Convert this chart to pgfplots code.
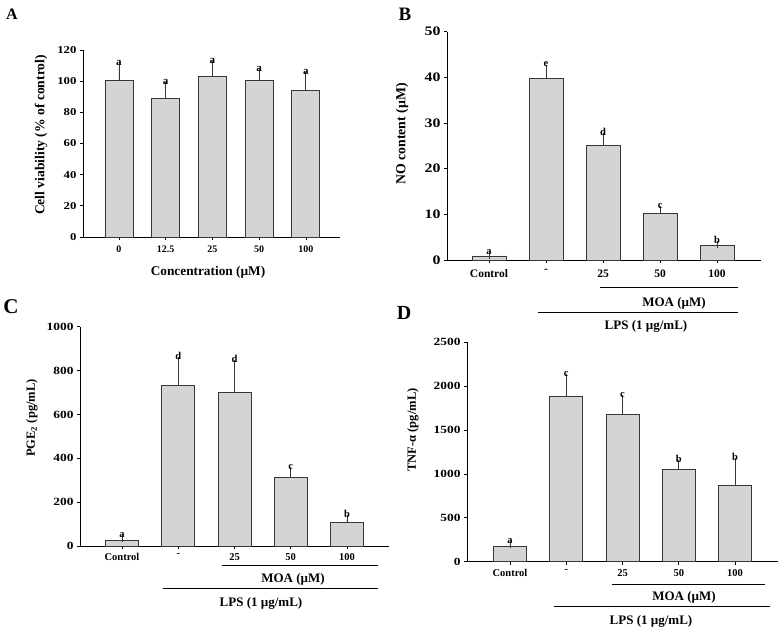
\documentclass[border=0pt]{standalone}
\usepackage{fontspec}
\setmainfont{Liberation Serif}
\newfontfamily\tickfont[FakeStretch=1.22]{Liberation Serif}
\usepackage{pgfplots}
\pgfplotsset{compat=1.18}
\definecolor{barfill}{RGB}{212,212,212}
\definecolor{baredge}{RGB}{55,55,55}
\newcommand{\fs}[1]{\fontsize{#1}{#1}\selectfont}
\pgfplotsset{
  panel/.style={
    scale only axis, anchor=south west,
    axis x line*=bottom, axis y line*=left,
    axis line style={black, line width=0.9pt},
    xtick={0,1,2,3,4},
    ymin=0,
    tick style={black, line width=0.7pt},
    major tick length=3pt,
    tick align=outside,
    /pgf/number format/assume math mode=true,
    /pgf/number format/1000 sep={},
    clip=false,
  },
  barst/.style={ybar, fill=barfill, draw=baredge, line width=0.8pt, bar width=#1,
    error bars/.cd, y dir=plus, y explicit, error mark=-,
    error bar style={baredge, line width=0.8pt},
    error mark options={baredge, line width=0.8pt, mark size=3.5pt}},
  letters/.style={draw=none, mark=none, nodes near coords, point meta=explicit symbolic,
    nodes near coords style={font=\bfseries\fs{#1}, anchor=south, inner sep=0.5pt, text=black}},
}
\begin{document}
\begin{tikzpicture}[x=1pt,y=1pt]
\path (0,0) rectangle (781,632);
% ---------- Panel A ----------
\begin{axis}[panel, at={(83pt,395pt)}, width=257pt, height=187pt,
  xmin=-0.77, xmax=4.73, ymax=120, ytick={0,20,...,120},
  xticklabels={0,12.5,25,50,100},
  yticklabel style={font=\tickfont\bfseries\fs{10.5}},
  xticklabel style={font=\bfseries\fs{10}, yshift=-2pt}]
\addplot[barst=28pt] coordinates {(0,100.3) +- (0,9.0) (1,89.0) +- (0,7.9) (2,102.9) +- (0,7.5) (3,100.7) +- (0,4.8) (4,94.3) +- (0,9.2)};
\addplot[letters=11] coordinates {(0,109.8)[a] (1,97.4)[a] (2,110.9)[a] (3,106)[a] (4,104)[a]};
\end{axis}
\node[rotate=90, font=\bfseries\fs{13.6}] at (41,497) {Cell viability (\% of control)};
\node[font=\bfseries\fs{13.3}] at (208,360) {Concentration (µM)};
\node[font=\bfseries\fs{16}] at (12,618) {A};
% ---------- Panel B ----------
\begin{axis}[panel, at={(447pt,372pt)}, width=314pt, height=228.3pt,
  xmin=-0.737, xmax=4.77, ymax=50, ytick={0,10,...,50},
  xticklabels={Control,-,25,50,100},
  yticklabel style={font=\tickfont\bfseries\fs{13}},
  xticklabel style={font=\bfseries\fs{11.5}, yshift=-3pt}]
\addplot[barst=34pt] coordinates {(0,0.88) +- (0,0) (1,39.7) +- (0,2.3) (2,25.1) +- (0,1.9) (3,10.2) +- (0,0.9) (4,3.2) +- (0,0.15)};
\addplot[letters=10.5] coordinates {(0,0.95)[a] (1,42.1)[e] (2,27.1)[d] (3,11.2)[c] (4,3.4)[b]};
\end{axis}
\node[rotate=90, font=\bfseries\fs{13.8}] at (402,498) {NO content (µM)};
\node[font=\bfseries\fs{19}] at (405,618) {B};
\draw[line width=0.8pt] (600,344.3) -- (738,344.3);
\node[font=\bfseries\fs{13}] at (674,329) {MOA (µM)};
\draw[line width=0.8pt] (538,319.7) -- (738,319.7);
\node[font=\bfseries\fs{13}] at (646,305.3) {LPS (1 µg/mL)};
% ---------- Panel C ----------
\begin{axis}[panel, at={(80pt,86pt)}, width=309pt, height=219.3pt,
  xmin=-0.747, xmax=4.747, ymax=1000, ytick={0,200,...,1000},
  xticklabels={Control,-,25,50,100},
  yticklabel style={font=\tickfont\bfseries\fs{11}},
  xticklabel style={font=\bfseries\fs{10.5}, yshift=-1pt}]
\addplot[barst=33pt] coordinates {(0,24) +- (0,9) (1,734) +- (0,114) (2,699) +- (0,134) (3,313) +- (0,30) (4,108) +- (0,18)};
\addplot[letters=10.5] coordinates {(0,34)[a] (1,849)[d] (2,834)[d] (3,344)[c] (4,127)[b]};
\end{axis}
\node[rotate=90, font=\bfseries\fs{12.5}] at (32,214) {PGE\textsubscript{2} (pg/mL)};
\node[font=\bfseries\fs{21}] at (11,325) {C};
\draw[line width=0.8pt] (221.7,67) -- (378,67);
\node[font=\bfseries\fs{13}] at (293,53) {MOA (µM)};
\draw[line width=0.8pt] (163,44) -- (378,44);
\node[font=\bfseries\fs{13}] at (261,29) {LPS (1 µg/mL)};
% ---------- Panel D ----------
\begin{axis}[panel, at={(467pt,70.3pt)}, width=311pt, height=219.4pt,
  xmin=-0.764, xmax=4.764, ymax=2500, ytick={0,500,...,2500},
  xticklabels={Control,-,25,50,100},
  yticklabel style={font=\tickfont\bfseries\fs{11}},
  xticklabel style={font=\bfseries\fs{10.5}, yshift=-1pt}]
\addplot[barst=33pt] coordinates {(0,171) +- (0,25) (1,1881) +- (0,220) (2,1679) +- (0,183) (3,1049) +- (0,72) (4,866) +- (0,278)};
\addplot[letters=10.5] coordinates {(0,197)[a] (1,2102)[c] (2,1863)[c] (3,1122)[b] (4,1145)[b]};
\end{axis}
\node[rotate=90, font=\bfseries\fs{12.5}] at (413,202) {TNF-α (pg/mL)};
\node[font=\bfseries\fs{20}] at (404,319) {D};
\draw[line width=0.8pt] (611.7,48) -- (765,48);
\node[font=\bfseries\fs{13}] at (684,34.3) {MOA (µM)};
\draw[line width=0.8pt] (554,25.3) -- (770,25.3);
\node[font=\bfseries\fs{13}] at (651,10.3) {LPS (1 µg/mL)};
\end{tikzpicture}
\end{document}
